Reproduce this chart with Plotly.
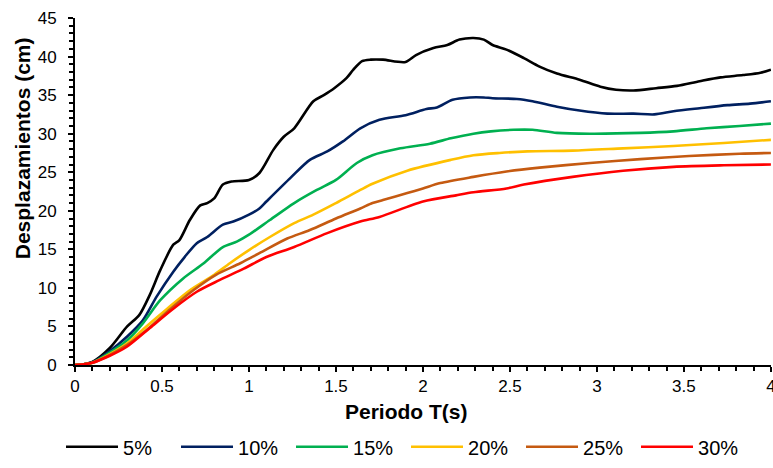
import plotly.graph_objects as go

# ---- data ----
labels = ["5%", "10%", "15%", "20%", "25%", "30%"]
colors = ["#000000", "#002060", "#00B050", "#FFC000", "#C55A11", "#FF0000"]

t_5 = [0, 0.05, 0.1, 0.2, 0.3, 0.37, 0.43, 0.49, 0.565, 0.6, 0.66, 0.72, 0.76, 0.8, 0.85, 0.9, 1.0, 1.06,
       1.14, 1.2, 1.26, 1.37, 1.43, 1.49, 1.56, 1.6, 1.65, 1.7, 1.77, 1.9, 1.96, 2.06, 2.14, 2.21, 2.29, 2.35,
       2.4, 2.48, 2.58, 2.67, 2.77, 2.9, 3.02, 3.11, 3.21, 3.34, 3.46, 3.59, 3.71, 3.84, 3.94, 4.0]
d_5 = [0, 0.1, 0.4, 2.2, 5.0, 6.5, 9.1, 12.3, 15.6, 16.2, 18.8, 20.7, 21.0, 21.6, 23.4, 23.8, 24.0, 24.9,
       27.9, 29.6, 30.7, 34.2, 35.0, 35.9, 37.2, 38.3, 39.4, 39.6, 39.6, 39.3, 40.2, 41.1, 41.5, 42.2, 42.4, 42.2,
       41.5, 40.9, 39.8, 38.7, 37.8, 37.0, 36.1, 35.7, 35.6, 35.9, 36.2, 36.8, 37.3, 37.6, 37.9, 38.3]

t_10 = [0, 0.05, 0.1, 0.2, 0.3, 0.39, 0.47, 0.565, 0.63, 0.7, 0.76, 0.85, 0.91, 1.0, 1.06, 1.1, 1.24, 1.35,
        1.45, 1.54, 1.64, 1.75, 1.9, 2.02, 2.08, 2.17, 2.27, 2.35, 2.4, 2.54, 2.63, 2.77, 2.9, 3.06, 3.21, 3.33,
        3.44, 3.59, 3.75, 3.88, 4.0]
d_10 = [0, 0.1, 0.35, 1.8, 3.7, 5.8, 8.9, 12.1, 14.0, 15.8, 16.6, 18.2, 18.6, 19.5, 20.3, 21.2, 24.3, 26.6,
        27.7, 29.0, 30.7, 31.8, 32.4, 33.2, 33.4, 34.4, 34.7, 34.7, 34.6, 34.5, 34.2, 33.5, 33.0, 32.6, 32.6, 32.5,
        32.9, 33.3, 33.7, 33.9, 34.2]

t_15 = [0, 0.05, 0.1, 0.2, 0.3, 0.39, 0.49, 0.62, 0.74, 0.85, 0.93, 1.0, 1.12, 1.26, 1.39, 1.5, 1.62, 1.71,
        1.87, 2.04, 2.16, 2.29, 2.39, 2.52, 2.63, 2.77, 2.96, 3.25, 3.44, 3.63, 3.82, 4.0]
d_15 = [0, 0.1, 0.3, 1.6, 3.2, 5.4, 8.4, 11.2, 13.2, 15.3, 16.0, 16.9, 18.8, 21.0, 22.7, 24.0, 26.2, 27.2,
        28.1, 28.7, 29.4, 30.0, 30.3, 30.5, 30.5, 30.1, 30.0, 30.1, 30.3, 30.7, 31.0, 31.3]

t_20 = [0, 0.05, 0.1, 0.2, 0.3, 0.41, 0.53, 0.66, 0.8, 0.89, 1.0, 1.12, 1.26, 1.37, 1.5, 1.64, 1.71, 1.91,
        2.16, 2.29, 2.44, 2.6, 2.86, 3.15, 3.44, 3.73, 4.0]
d_20 = [0, 0.1, 0.3, 1.4, 2.8, 5.0, 7.3, 9.7, 11.7, 13.2, 14.9, 16.6, 18.4, 19.5, 21.0, 22.7, 23.5, 25.2,
        26.6, 27.2, 27.5, 27.7, 27.8, 28.1, 28.4, 28.8, 29.2]

t_25 = [0, 0.05, 0.1, 0.2, 0.3, 0.41, 0.55, 0.68, 0.81, 0.95, 1.06, 1.22, 1.35, 1.5, 1.64, 1.71, 1.77, 1.91,
        2.0, 2.1, 2.29, 2.48, 2.67, 2.96, 3.25, 3.53, 3.82, 4.0]
d_25 = [0, 0.1, 0.3, 1.3, 2.6, 4.5, 7.3, 9.7, 11.7, 13.2, 14.5, 16.4, 17.5, 19.0, 20.3, 21.0, 21.4, 22.3,
        22.9, 23.6, 24.4, 25.1, 25.6, 26.2, 26.7, 27.1, 27.4, 27.5]

t_30 = [0, 0.05, 0.1, 0.2, 0.3, 0.43, 0.565, 0.7, 0.83, 0.97, 1.1, 1.26, 1.45, 1.64, 1.75, 2.0, 2.19, 2.29,
        2.48, 2.58, 2.86, 3.15, 3.44, 3.73, 4.0]
d_30 = [0, 0.1, 0.3, 1.2, 2.4, 4.8, 7.3, 9.5, 11.0, 12.5, 14.0, 15.3, 17.1, 18.6, 19.2, 21.2, 22.0, 22.4,
        22.9, 23.4, 24.4, 25.2, 25.7, 25.9, 26.0]

x_ticks = [0, 0.5, 1, 1.5, 2, 2.5, 3, 3.5, 4]
x_ticklabels = ["0", "0.5", "1", "1.5", "2", "2.5", "3", "3.5", "4"]
y_ticks = [0, 5, 10, 15, 20, 25, 30, 35, 40, 45]

series_t = [t_5, t_10, t_15, t_20, t_25, t_30]
series_d = [d_5, d_10, d_15, d_20, d_25, d_30]

FONT = "Liberation Sans, Arial, sans-serif"

fig = go.Figure()
for lab, col, tt, dd in zip(labels, colors, series_t, series_d):
    fig.add_trace(go.Scatter(x=tt, y=dd, mode="lines", name=lab, cliponaxis=False,
                             line=dict(color=col, width=2.6, shape="spline", smoothing=0.8)))

axis_common = dict(showgrid=False, zeroline=False, linecolor="black", linewidth=2,
                   ticks="outside", tickcolor="black", tickwidth=2, ticklen=5,
                   ticklabeloverflow="allow", automargin=False,
                   tickfont=dict(family=FONT, size=17, color="black"))

XR = [0, 4.0005]
YR = [0, 45.002]

fig.update_layout(
    width=773, height=468,
    margin=dict(l=75, r=2, t=18, b=103),
    paper_bgcolor="white", plot_bgcolor="white",
    font=dict(family=FONT, color="black"),
    xaxis=dict(range=XR, tickvals=x_ticks, ticktext=x_ticklabels, showline=True,
               minor=dict(dtick=0.1, ticks="outside", ticklen=4, tickcolor="black", tickwidth=1.5),
               **axis_common),
    yaxis=dict(range=YR, tickvals=y_ticks, showline=True, ticklabelstandoff=8,
               minor=dict(dtick=1, ticks="outside", ticklen=4, tickcolor="black", tickwidth=1.5),
               **axis_common),
    xaxis2=dict(range=XR, overlaying="x", anchor="y", tickvals=x_ticks, ticks="inside",
                ticklen=5, tickwidth=2, tickcolor="black", showticklabels=False, showline=False,
                showgrid=False, zeroline=False, automargin=False),
    yaxis2=dict(range=YR, overlaying="y", anchor="x", tickvals=y_ticks, ticks="inside",
                ticklen=5, tickwidth=2, tickcolor="black", showticklabels=False, showline=False,
                showgrid=False, zeroline=False, automargin=False),
    showlegend=True,
    legend=dict(orientation="h", xref="paper", yref="paper",
                x=-0.0201, xanchor="left", y=-0.292, yanchor="bottom",
                font=dict(family=FONT, size=20, color="black"),
                entrywidth=48, itemwidth=52, bgcolor="rgba(0,0,0,0)"),
    annotations=[
        dict(text="<b>Periodo T(s)</b>", xref="paper", yref="paper", x=0.4756, y=-0.1354,
             xanchor="center", yanchor="middle", showarrow=False,
             font=dict(family=FONT, size=21, color="black")),
        dict(text="<b>Desplazamientos (cm)</b>", xref="paper", yref="paper", x=-0.076, y=0.625,
             xanchor="center", yanchor="middle", textangle=-90, showarrow=False,
             font=dict(family=FONT, size=21, color="black")),
    ],
)

fig.write_html("out.html")
